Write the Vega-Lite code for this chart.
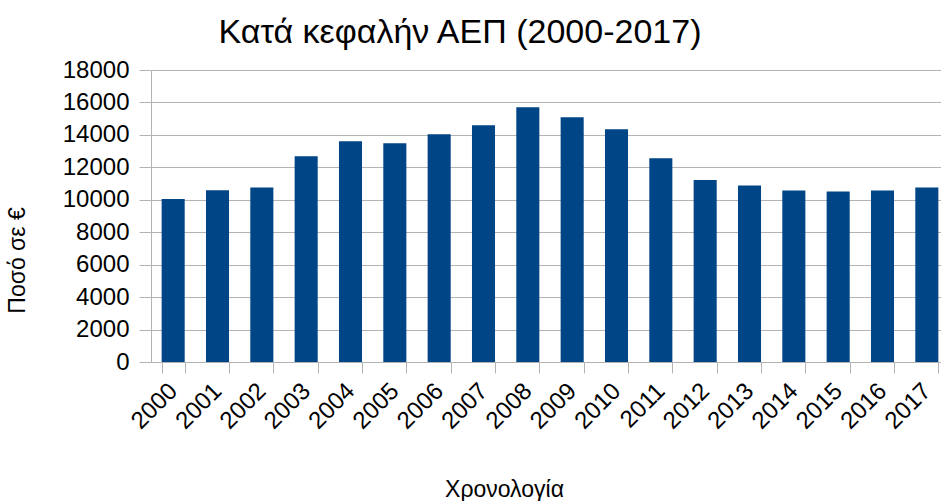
{
  "$schema": "https://vega.github.io/schema/vega-lite/v6.json",
  "autosize": {"type": "none"},
  "padding": {"left": 151, "top": 70, "right": 0, "bottom": 139},
  "width": 790,
  "height": 292,
  "background": "white",
  "config": {"font": "Liberation Sans", "view": {"stroke": null}},
  "title": {"text": "Κατά κεφαλήν ΑΕΠ (2000-2017)", "font": "Liberation Sans", "fontSize": 34, "fontWeight": "normal", "color": "#000000", "anchor": "middle", "dx": -86, "offset": 28, "dy": 20},
  "data": {"values": [
    {"year": "2000", "gdp": 10050},
    {"year": "2001", "gdp": 10580},
    {"year": "2002", "gdp": 10763},
    {"year": "2003", "gdp": 12680},
    {"year": "2004", "gdp": 13610},
    {"year": "2005", "gdp": 13485},
    {"year": "2006", "gdp": 14040},
    {"year": "2007", "gdp": 14600},
    {"year": "2008", "gdp": 15710},
    {"year": "2009", "gdp": 15093},
    {"year": "2010", "gdp": 14350},
    {"year": "2011", "gdp": 12557},
    {"year": "2012", "gdp": 11216},
    {"year": "2013", "gdp": 10887},
    {"year": "2014", "gdp": 10577},
    {"year": "2015", "gdp": 10515},
    {"year": "2016", "gdp": 10577},
    {"year": "2017", "gdp": 10763}
  ]},
  "mark": {"type": "bar", "color": "#004586"},
  "encoding": {
    "x": {
      "field": "year", "type": "ordinal",
      "scale": {"range": [0, 798], "paddingInner": 0.48, "paddingOuter": 0.24},
      "axis": {
        "title": "Χρονολογία", "titleFontSize": 23, "titleFontWeight": "normal", "titleColor": "#000000",
        "titleX": 353, "titleY": 134, "titleAnchor": "middle", "titleAlign": "center", "titleBaseline": "alphabetic",
        "labelAngle": -45, "labelAlign": "right", "labelBaseline": "middle", "labelFontSize": 24, "labelColor": "#000000", "labelPadding": 14,
        "tickBand": "extent", "tickSize": 11, "tickColor": "#b3b3b3", "domainColor": "#b3b3b3", "grid": false
      }
    },
    "y": {
      "field": "gdp", "type": "quantitative",
      "scale": {"domain": [0, 18000], "nice": false},
      "axis": {
        "title": "Ποσό σε €", "titleFontSize": 23, "titleFontWeight": "normal", "titleColor": "#000000",
        "titleX": -122, "titleY": 190, "titleAngle": -90, "titleAlign": "center", "titleBaseline": "bottom",
        "values": [0, 2000, 4000, 6000, 8000, 10000, 12000, 14000, 16000, 18000],
        "format": "d", "labelFontSize": 24, "labelColor": "#000000", "labelPadding": 10,
        "tickSize": 12, "tickColor": "#b3b3b3", "domainColor": "#b3b3b3",
        "grid": true, "gridColor": "#b3b3b3", "gridWidth": 1
      }
    }
  }
}
